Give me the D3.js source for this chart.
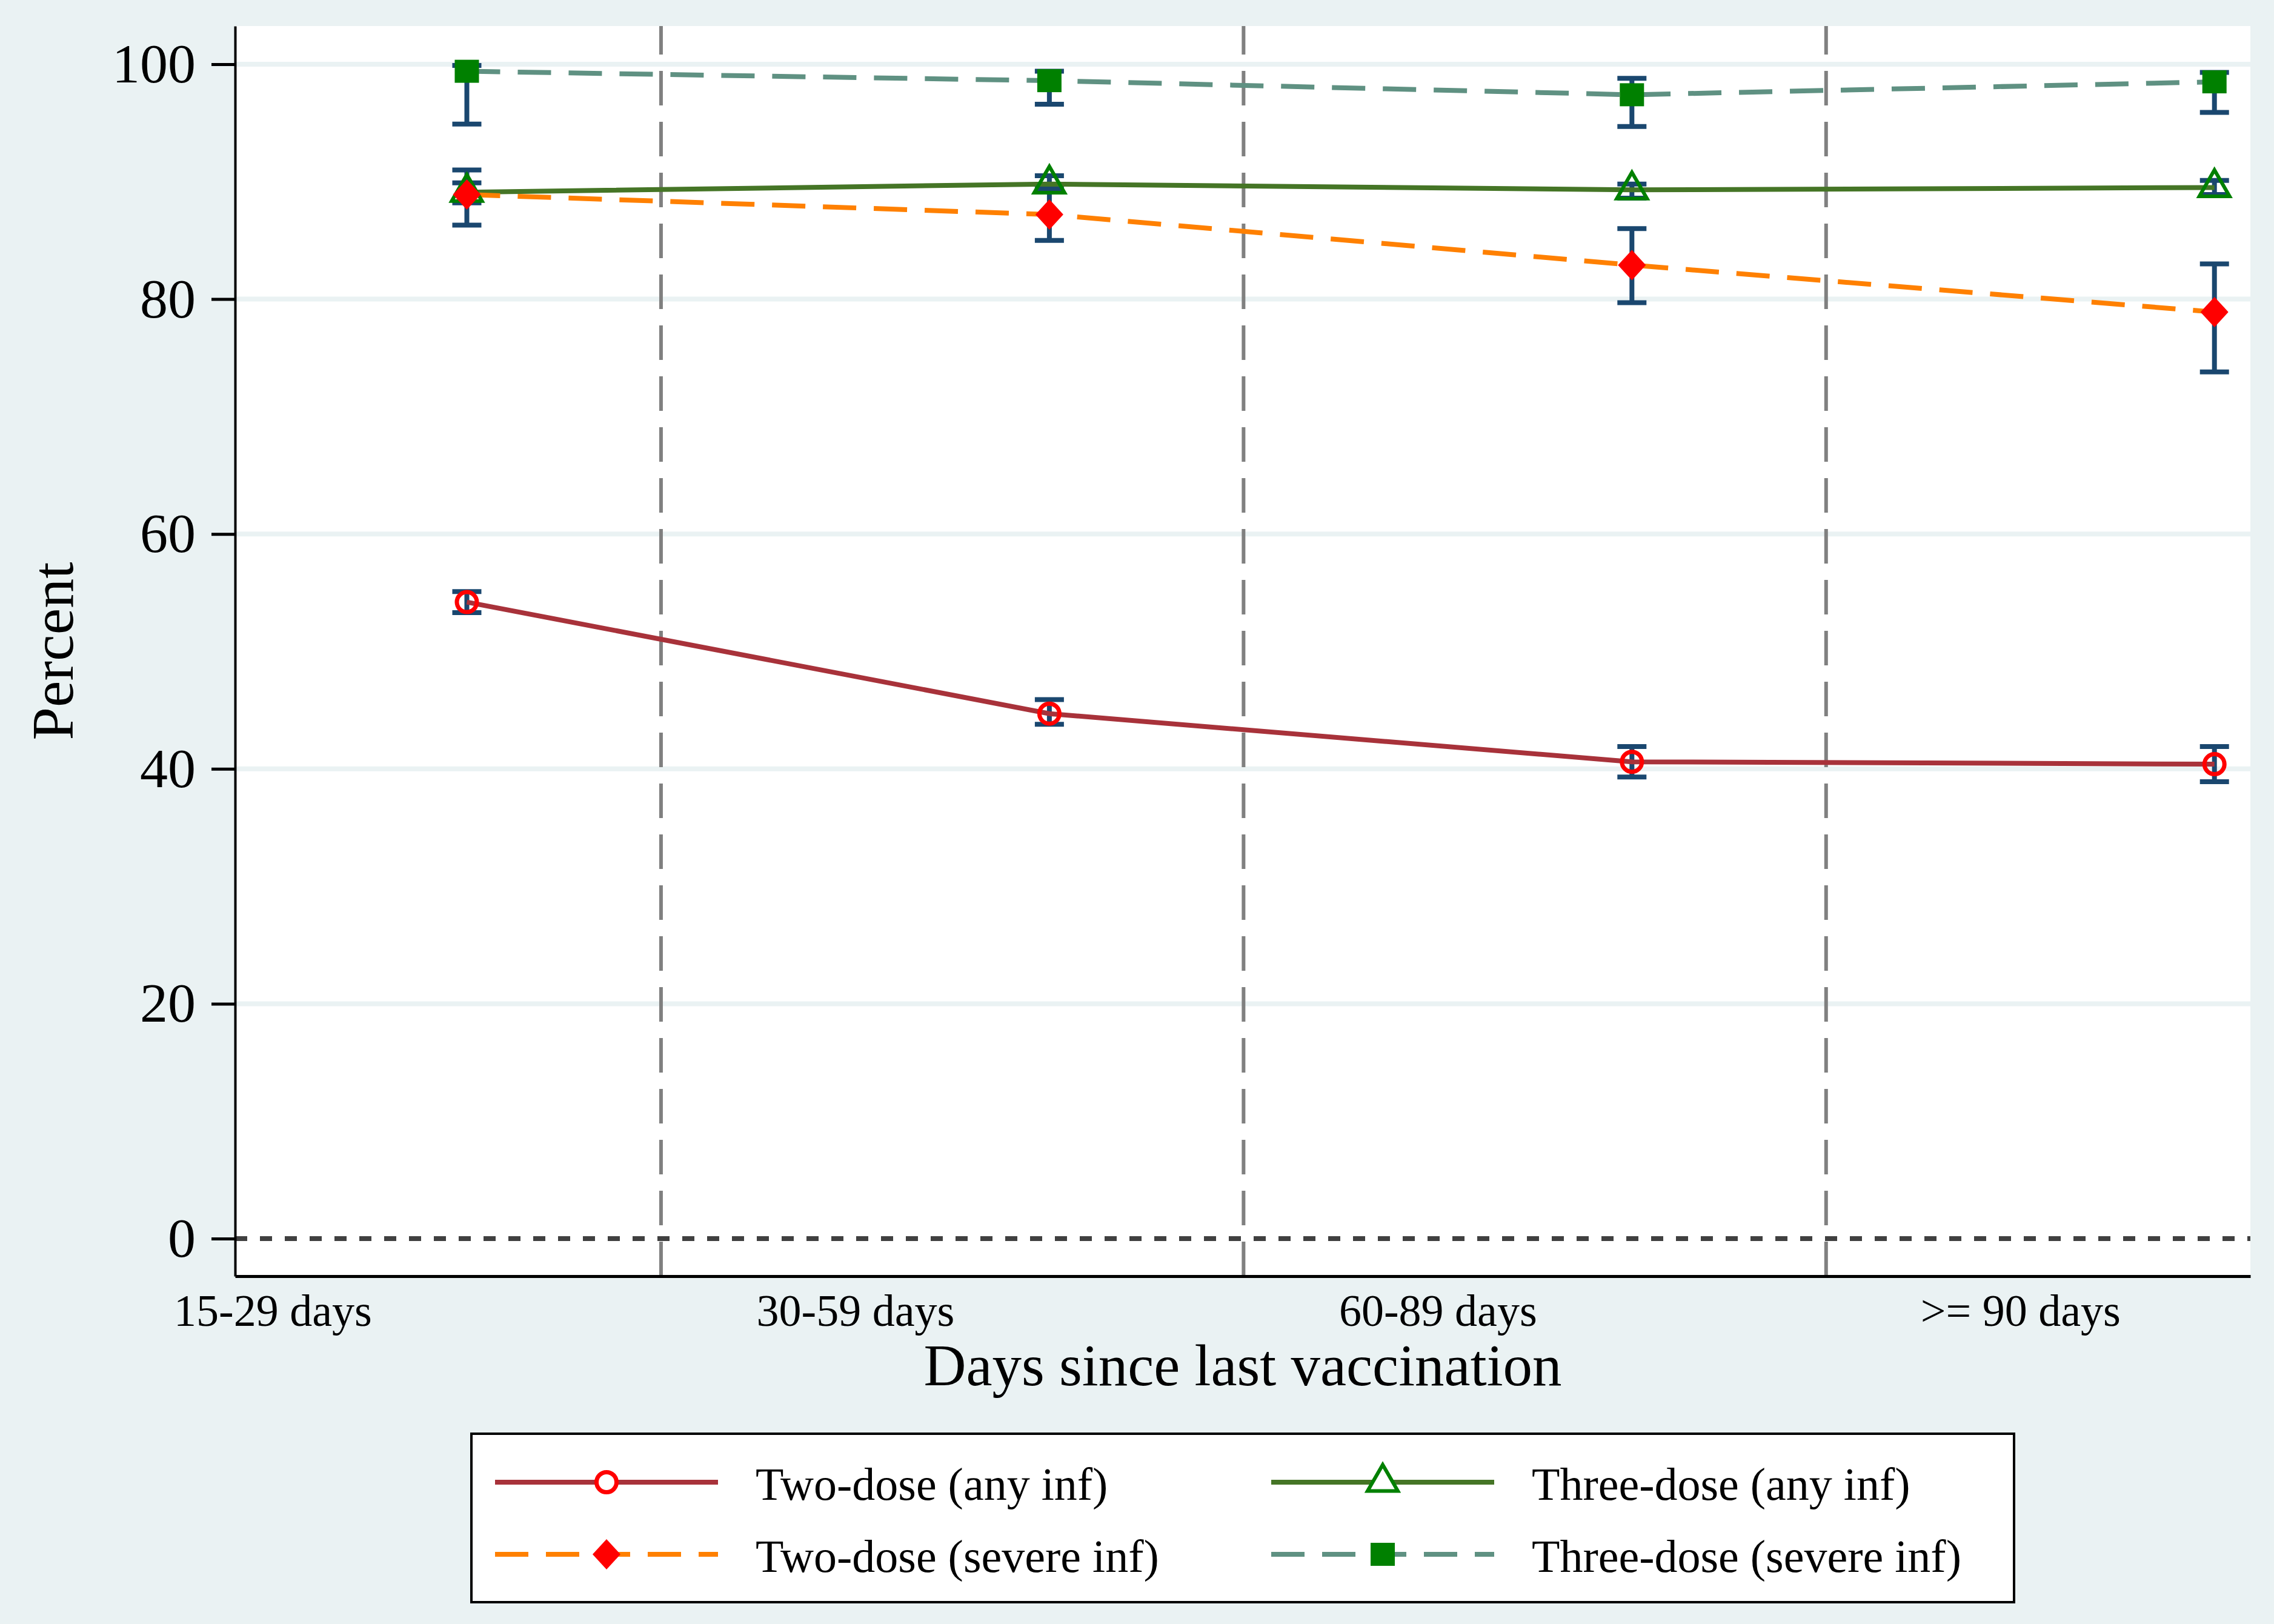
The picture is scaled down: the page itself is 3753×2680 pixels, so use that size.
<!DOCTYPE html>
<html>
<head>
<meta charset="utf-8">
<script src="https://cdn.jsdelivr.net/npm/d3@7"></script>
<style>
  body { margin: 0; background: #eaf2f3; }
  text { font-family: "Liberation Serif", "Times New Roman", serif; fill: #000; }
</style>
</head>
<body>
<div id="chart"></div>
<script>
// categories and estimates
var categories = ["15-29 days", "30-59 days", "60-89 days", ">= 90 days"];
var yTicks = [0, 20, 40, 60, 80, 100];

var twoAny = [54.2, 44.7, 40.6, 40.4],
    twoAnyLo = [53.3, 43.8, 39.3, 38.9],
    twoAnyHi = [55.1, 45.9, 41.9, 41.9];

var twoSevere = [88.9, 87.2, 82.9, 78.9],
    twoSevereLo = [86.3, 85.0, 79.7, 73.8],
    twoSevereHi = [91.0, 89.4, 86.0, 83.0];

var threeAny = [89.1, 89.8, 89.3, 89.5],
    threeAnyLo = [88.2, 89.2, 88.6, 88.9],
    threeAnyHi = [89.9, 90.5, 89.8, 90.1];

var threeSevere = [99.4, 98.6, 97.4, 98.5],
    threeSevereLo = [94.9, 96.6, 94.7, 95.9],
    threeSevereHi = [99.9, 99.4, 98.8, 99.3];

var series = [
  {name: "Two-dose (any inf)", v: twoAny, lo: twoAnyLo, hi: twoAnyHi, line: "#a8323a", dash: null, marker: "circle"},
  {name: "Three-dose (any inf)", v: threeAny, lo: threeAnyLo, hi: threeAnyHi, line: "#457526", dash: null, marker: "triangle"},
  {name: "Two-dose (severe inf)", v: twoSevere, lo: twoSevereLo, hi: twoSevereHi, line: "#ff8000", dash: "55,29", marker: "diamond"},
  {name: "Three-dose (severe inf)", v: threeSevere, lo: threeSevereLo, hi: threeSevereHi, line: "#5f9182", dash: "55,29", marker: "square"}
];

var W = 3753, H = 2680;
var margin = {top: 43, right: 39, bottom: 574, left: 388},
    width = W - margin.left - margin.right,
    height = H - margin.top - margin.bottom;

// points sit a third of the way past each label, separators two thirds
var pointShift = 1 / 3, sepShift = 2 / 3;

var x = d3.scaleLinear().domain([-0.0645, 3.395]).range([0, width]);
var y = d3.scaleLinear().domain([-3.2, 103.25]).range([height, 0]);

var svg = d3.select("#chart").append("svg")
    .attr("width", W).attr("height", H);

svg.append("rect").attr("width", W).attr("height", H).attr("fill", "#eaf2f3");

var g = svg.append("g")
    .attr("transform", "translate(" + margin.left + "," + margin.top + ")");

g.append("rect").attr("width", width).attr("height", height).attr("fill", "#fff");

// gridlines
g.selectAll(".grid").data(yTicks.filter(function(d) { return d > 0; }))
  .enter().append("line")
    .attr("x1", 0).attr("x2", width)
    .attr("y1", function(d) { return y(d); }).attr("y2", function(d) { return y(d); })
    .attr("stroke", "#eaf2f3").attr("stroke-width", 8);

// vertical separators
g.selectAll(".sep").data(d3.range(categories.length - 1))
  .enter().append("line")
    .attr("x1", function(d) { return x(d + sepShift); }).attr("x2", function(d) { return x(d + sepShift); })
    .attr("y1", height).attr("y2", 0)
    .attr("stroke", "#808080").attr("stroke-width", 6)
    .attr("stroke-dasharray", "57,27");

// zero reference line
g.append("line")
    .attr("x1", 0).attr("x2", width)
    .attr("y1", y(0)).attr("y2", y(0))
    .attr("stroke", "#404040").attr("stroke-width", 8)
    .attr("stroke-dasharray", "20,21");

// axes
var yAxis = g.append("g")
    .call(d3.axisLeft(y).tickValues(yTicks).tickSize(39).tickSizeOuter(0).tickPadding(26));
yAxis.select(".domain").attr("stroke", "#000").attr("stroke-width", 4);
yAxis.selectAll(".tick line").attr("stroke", "#000").attr("stroke-width", 5);
yAxis.selectAll(".tick text").style("font-size", "92px").style("font-family", "Liberation Serif");

var xAxis = g.append("g")
    .attr("transform", "translate(0," + height + ")")
    .call(d3.axisBottom(x).tickValues(d3.range(categories.length))
      .tickFormat(function(d) { return categories[d]; }).tickSize(0).tickSizeOuter(0));
xAxis.select(".domain").attr("stroke", "#000").attr("stroke-width", 5);
xAxis.selectAll(".tick text")
    .attr("y", 82).attr("dy", null)
    .style("font-size", "74px").style("font-family", "Liberation Serif");

// axis titles
g.append("text")
    .attr("x", width / 2).attr("y", height + 180)
    .attr("text-anchor", "middle").style("font-size", "97px")
    .text("Days since last vaccination");

g.append("text")
    .attr("transform", "translate(" + (120 - margin.left) + "," + (height / 2) + ") rotate(-90)")
    .attr("text-anchor", "middle").style("font-size", "98px")
    .text("Percent");

// markers
function drawMarker(sel, type, hollowFill) {
  if (type === "circle") {
    sel.append("circle").attr("r", 16.5).attr("fill", hollowFill).attr("stroke", "#ff0000").attr("stroke-width", 7);
  } else if (type === "triangle") {
    var s = 50, h = s / Math.sqrt(3);
    sel.append("path")
      .attr("d", "M0," + (-h) + "L" + (s / 2) + "," + (h / 2) + "L" + (-s / 2) + "," + (h / 2) + "Z")
      .attr("fill", hollowFill).attr("stroke", "#008000").attr("stroke-width", 6);
  } else if (type === "diamond") {
    sel.append("path").attr("d", "M0,-25L23,0L0,25L-23,0Z").attr("fill", "#ff0000");
  } else {
    sel.append("rect").attr("x", -20).attr("y", -19).attr("width", 40).attr("height", 38).attr("fill", "#008000");
  }
}

var line = d3.line()
    .x(function(d, i) { return x(i + pointShift); })
    .y(function(d) { return y(d); });

// error bars
series.forEach(function(s) {
  var eb = g.append("g").selectAll("g").data(s.v).enter().append("g")
      .attr("transform", function(d, i) { return "translate(" + x(i + pointShift) + ",0)"; });
  eb.append("line")
      .attr("y1", function(d, i) { return y(s.lo[i]); }).attr("y2", function(d, i) { return y(s.hi[i]); })
      .attr("stroke", "#1a476f").attr("stroke-width", 8);
  [s.lo, s.hi].forEach(function(arr) {
    eb.append("line")
      .attr("x1", -24).attr("x2", 24)
      .attr("y1", function(d, i) { return y(arr[i]); }).attr("y2", function(d, i) { return y(arr[i]); })
      .attr("stroke", "#1a476f").attr("stroke-width", 8);
  });
});

// connecting lines
series.forEach(function(s) {
  g.append("path").datum(s.v)
      .attr("d", line)
      .attr("fill", "none").attr("stroke", s.line).attr("stroke-width", 8)
      .attr("stroke-dasharray", s.dash);
});

// point markers
series.forEach(function(s) {
  g.append("g").selectAll("g").data(s.v).enter().append("g")
      .attr("transform", function(d, i) { return "translate(" + x(i + pointShift) + "," + y(d) + ")"; })
      .each(function() { drawMarker(d3.select(this), s.marker, "none"); });
});

// legend
var legend = svg.append("g");
legend.append("rect")
    .attr("x", 778).attr("y", 2366).attr("width", 2546).attr("height", 278)
    .attr("fill", "#fff").attr("stroke", "#000").attr("stroke-width", 4);

var legCols = [817, 2098], legRows = [2446, 2565], legLine = 368, legTextGap = 430;

series.forEach(function(s, i) {
  var col = legCols[i % 2], row = legRows[Math.floor(i / 2)];
  var item = legend.append("g").attr("transform", "translate(" + col + "," + row + ")");
  item.append("line")
      .attr("x1", 0).attr("x2", legLine)
      .attr("stroke", s.line).attr("stroke-width", 8)
      .attr("stroke-dasharray", s.dash);
  var m = item.append("g").attr("transform", "translate(" + (legLine / 2) + ",0)");
  drawMarker(m, s.marker, "#fff");
  item.append("text")
      .attr("x", legTextGap).attr("y", 29)
      .style("font-size", "76px")
      .text(s.name);
});
</script>
</body>
</html>
